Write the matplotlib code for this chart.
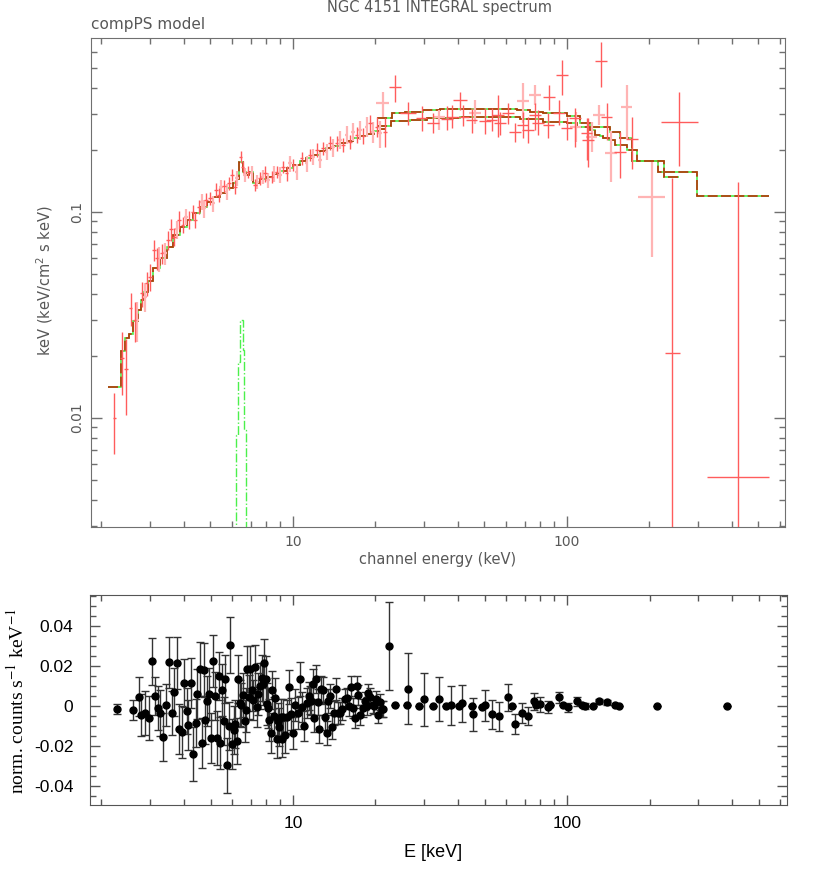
import matplotlib
matplotlib.use('Agg')
import matplotlib.pyplot as plt
import numpy as np
from matplotlib.ticker import LogLocator, NullFormatter, MultipleLocator

# JEM-X points (energy keV, flux, fractional error, data set)
jemx_E = [2.23, 2.376, 2.458, 2.557, 2.644, 2.703, 2.804, 2.884, 2.925, 3.007,
          3.110, 3.182, 3.251, 3.318, 3.411, 3.507, 3.587, 3.679, 3.763, 3.846,
          3.958, 4.070, 4.184, 4.305, 4.400, 4.528, 4.644, 4.735, 4.815, 4.980,
          5.119, 5.236, 5.356, 5.474, 5.600, 5.728, 5.855, 6.004, 6.141, 6.261,
          6.443, 6.553, 6.681, 6.869, 7.068, 7.267, 7.409, 7.579, 7.752, 7.924,
          8.127, 8.362, 8.525, 8.721, 8.967, 9.218, 9.485, 9.752, 10.03, 10.31,
          10.76, 11.22, 11.54, 11.86, 12.21, 12.55, 12.90, 13.27, 13.65, 14.03,
          14.44, 14.84, 15.26, 15.70, 16.14, 16.60, 17.08, 17.56, 18.06, 18.58,
          19.10, 19.64, 20.21, 20.78, 21.67]
jemx_F = [0.00997, 0.0195, 0.01723, 0.0341, 0.0299, 0.0299, 0.0403, 0.0388, 0.0451, 0.0485,
          0.0654, 0.0596, 0.0596, 0.0630, 0.0630, 0.0731, 0.0824, 0.0759, 0.0824, 0.0915,
          0.0865, 0.0949, 0.0915, 0.1003, 0.0915, 0.1061, 0.1122, 0.1042, 0.1143, 0.1165,
          0.1102, 0.1279, 0.1209, 0.1318, 0.1337, 0.1255, 0.1378, 0.1512, 0.1327, 0.1457,
          0.1855, 0.1660, 0.1512, 0.1569, 0.1541, 0.1352, 0.1403, 0.1457, 0.1484, 0.1541,
          0.1429, 0.1484, 0.1541, 0.1569, 0.1512, 0.1660, 0.1541, 0.1723, 0.1691, 0.1569,
          0.1823, 0.1723, 0.1891, 0.1855, 0.2000, 0.1789, 0.2038, 0.1962, 0.2170, 0.2060,
          0.2156, 0.2236, 0.2114, 0.2364, 0.2195, 0.2453, 0.2364, 0.2500, 0.2339, 0.2595,
          0.2695, 0.2453, 0.2595, 0.2410, 0.2453]
jemx_err = [0.33, 0.34, 0.40, 0.18, 0.22, 0.22, 0.14, 0.16, 0.13, 0.15,
            0.12, 0.12, 0.14, 0.11, 0.12, 0.11, 0.12, 0.10, 0.10, 0.10,
            0.09, 0.09, 0.10, 0.08, 0.09, 0.08, 0.09, 0.10, 0.08, 0.07,
            0.09, 0.08, 0.08, 0.08, 0.07, 0.09, 0.07, 0.07, 0.08, 0.08,
            0.07, 0.07, 0.08, 0.07, 0.08, 0.07, 0.08, 0.07, 0.08, 0.09,
            0.08, 0.07, 0.09, 0.07, 0.09, 0.07, 0.08, 0.09, 0.07, 0.09,
            0.07, 0.09, 0.07, 0.09, 0.08, 0.09, 0.07, 0.09, 0.08, 0.10,
            0.08, 0.10, 0.08, 0.10, 0.08, 0.10, 0.09, 0.11, 0.09, 0.11,
            0.10, 0.12, 0.11, 0.15, 0.16]
jemx_set = [1, 1, 1, 1, 1, 2, 1, 2, 1, 1,
            1, 1, 2, 1, 2, 1, 1, 1, 2, 1,
            1, 2, 1, 1, 1, 1, 2, 2, 1, 1,
            2, 1, 1, 2, 1, 2, 1, 1, 1, 2,
            1, 1, 2, 1, 2, 1, 2, 1, 2, 1,
            2, 1, 2, 1, 2, 1, 1, 2, 1, 2,
            1, 2, 1, 2, 1, 2, 1, 2, 1, 2,
            1, 2, 1, 2, 1, 2, 1, 2, 1, 2,
            1, 2, 1, 2, 1]

# ISGRI points
isgri_E = [21.26, 23.57, 26.35, 29.49, 32.51, 34.2, 36.4, 37.95, 40.69, 41.83,
           44.89, 46.15, 50.2, 53.1, 56.15, 56.9, 61.07, 64.6, 69.25, 68.9,
           72.24, 76.4, 76.4, 78.6, 86.2, 85.5, 93.5, 96.1, 99.7, 106.9,
           107.6, 118.0, 119.6, 123.1, 131.2, 133.4, 139.6, 144.8, 156.1, 165.1,
           173.1, 203.8, 242.3, 257.0, 421.8]
isgri_F = [0.3393, 0.4058, 0.3013, 0.2850, 0.2714, 0.2901, 0.2818, 0.2901, 0.3498, 0.2901,
           0.2797, 0.3034, 0.2775, 0.2797, 0.2957, 0.2695, 0.3013, 0.2453, 0.3470, 0.2644,
           0.2500, 0.3698, 0.2957, 0.2714, 0.3628, 0.2644, 0.3034, 0.4620, 0.2548, 0.2850,
           0.2595, 0.2410, 0.2236, 0.2319, 0.2957, 0.5410, 0.2882, 0.1940, 0.1962, 0.3222,
           0.2254, 0.1179, 0.0206, 0.2744, 0.00515]
isgri_hi = [0.3837, 0.4624, 0.3430, 0.3270, 0.3024, 0.3128, 0.3270, 0.3307, 0.3837, 0.3307,
            0.3197, 0.3498, 0.3197, 0.3197, 0.3698, 0.3058, 0.3381, 0.2704, 0.4215, 0.3058,
            0.2891, 0.4136, 0.3381, 0.3128, 0.4136, 0.3024, 0.3498, 0.5470, 0.2901, 0.3197,
            0.3058, 0.2860, 0.2860, 0.2735, 0.3307, 0.6686, 0.3381, 0.2472, 0.2445, 0.4136,
            0.2891, 0.1754, 0.1467, 0.3824, 0.1403]
isgri_lo = [0.2900, 0.3430, 0.2644, 0.2480, 0.2427, 0.2500, 0.2500, 0.2557, 0.3128, 0.2615,
            0.2418, 0.2674, 0.2391, 0.2472, 0.2319, 0.2364, 0.2674, 0.2187, 0.2695, 0.2286,
            0.2163, 0.3307, 0.2500, 0.2364, 0.3128, 0.2286, 0.2644, 0.3698, 0.2236, 0.2068,
            0.2187, 0.1788, 0.1653, 0.1955, 0.2644, 0.4058, 0.2236, 0.1403, 0.1462, 0.2261,
            0.1611, 0.0607, 0.0001, 0.1672, 0.0001]
isgri_dx = [0.055, 0.055, 0.07, 0.05, 0.05, 0.05, 0.05, 0.05, 0.06, 0.05,
            0.05, 0.05, 0.05, 0.05, 0.05, 0.05, 0.05, 0.05, 0.05, 0.05,
            0.05, 0.05, 0.05, 0.05, 0.05, 0.05, 0.05, 0.05, 0.05, 0.05,
            0.05, 0.05, 0.05, 0.05, 0.05, 0.05, 0.05, 0.05, 0.05, 0.05,
            0.05, 0.12, 0.065, 0.17, 0.30]
isgri_set = [2, 1, 1, 1, 1, 2, 1, 1, 1, 1,
             1, 2, 1, 1, 1, 1, 1, 1, 2, 1,
             1, 2, 1, 1, 1, 1, 1, 1, 1, 1,
             2, 1, 1, 2, 2, 1, 1, 2, 1, 2,
             1, 2, 1, 1, 1]

# folded model (bin edges, values)
jemx_edges = [2.12, 2.35, 2.44, 2.52, 2.60, 2.72, 2.79, 2.86, 2.95, 3.09,
              3.27, 3.46, 3.66, 3.87, 4.09, 4.33, 4.58, 4.84, 5.12, 5.42,
              5.73, 6.05, 6.25, 6.35, 6.55, 6.72, 6.92, 7.15, 7.6, 8.0,
              8.5, 9.0, 9.5, 10.0, 10.6, 11.2, 11.86, 12.5, 13.2, 14.0,
              14.8, 15.7, 16.6, 17.6, 18.6, 19.7, 20.78, 21.67]
jemx_model = [0.0141, 0.0211, 0.02455, 0.0256, 0.0297, 0.0334, 0.0374, 0.0410, 0.0460, 0.0533,
              0.0596, 0.0679, 0.0773, 0.0848, 0.0915, 0.0986, 0.1061, 0.1122, 0.1179, 0.1241,
              0.1303, 0.1387, 0.1440, 0.1754, 0.1569, 0.1512, 0.1563, 0.1378, 0.1440, 0.1480,
              0.1530, 0.1580, 0.1630, 0.1690, 0.1760, 0.1830, 0.1900, 0.1970, 0.2035, 0.2100,
              0.2160, 0.2220, 0.2280, 0.2340, 0.2400, 0.2460, 0.2520]
isgri_a_edges = [20.21, 22.92, 25.63, 29.82, 34.40, 65.7, 73.3, 81.7, 100.0, 111.5,
                 121.3, 143.5, 156.1, 172.7, 214.8, 298.3, 544.6]
isgri_a_model = [0.2850, 0.3013, 0.3069, 0.3128, 0.3162, 0.3128, 0.3069, 0.3013, 0.2924, 0.2714,
                 0.2595, 0.2445, 0.2279, 0.1768, 0.1559, 0.1196]
isgri_b_edges = [20.21, 22.79, 26.73, 30.83, 40.69, 67.4, 81.7, 100.0, 108.8, 121.3,
                 126.6, 131.9, 135.3, 142.3, 149.7, 165.6, 180.1, 225.9, 256.4]
isgri_b_model = [0.2615, 0.2765, 0.2797, 0.2850, 0.2882, 0.2818, 0.2744, 0.2695, 0.2595, 0.2500,
                 0.2364, 0.2339, 0.2279, 0.2236, 0.2114, 0.2000, 0.1768, 0.1484]
line_edges = [6.19, 6.30, 6.41, 6.55, 6.64, 6.72]
line_model = [0.00827, 0.01876, 0.0299, 0.0214, 0.00875]

# residuals
res_E = [2.285, 2.614, 2.734, 2.796, 2.891, 2.974, 3.050, 3.127, 3.207, 3.280,
         3.364, 3.440, 3.528, 3.608, 3.679, 3.762, 3.837, 3.922, 3.990, 4.091,
         4.150, 4.244, 4.304, 4.414, 4.476, 4.577, 4.642, 4.721, 4.787, 4.868,
         4.950, 5.020, 5.120, 5.192, 5.265, 5.354, 5.430, 5.522, 5.585, 5.647,
         5.743, 5.824, 5.906, 5.990, 6.091, 6.159, 6.246, 6.299, 6.388, 6.459,
         6.551, 6.662, 6.719, 6.794, 6.890, 6.968, 7.066, 7.166, 7.267, 7.370,
         7.474, 7.580, 7.686, 7.793, 7.860, 7.948, 8.015, 8.106, 8.174, 8.290,
         8.407, 8.501, 8.597, 8.718, 8.817, 8.916, 9.016, 9.118, 9.221, 9.351,
         9.483, 9.643, 9.806, 10.03, 10.20, 10.40, 10.60, 10.82, 11.00, 11.22,
         11.41, 11.54, 11.67, 11.80, 11.96, 12.13, 12.30, 12.48, 12.65, 12.83,
         13.09, 13.27, 13.46, 13.65, 13.92, 14.16, 14.36, 14.60, 14.84, 15.14,
         15.48, 15.70, 16.06, 16.28, 16.60, 16.84, 17.07, 17.31, 17.56, 17.96,
         18.32, 18.57, 18.83, 19.10, 19.53, 19.75, 20.09, 20.37, 20.78, 21.07,
         21.37, 22.34, 23.50, 26.14, 26.36, 28.91,
         30.07, 32.51, 34.01, 36.17, 37.72, 40.35, 41.38, 44.87, 45.50, 48.95,
         50.20, 53.23, 56.62, 60.74, 63.0, 64.6, 68.33, 71.86, 75.80, 77.08,
         79.71, 85.50, 86.47, 93.25, 96.42, 100.6, 108.5, 113.1, 116.3, 124.1,
         131.2, 139.6, 149.7, 154.4, 212.5, 382.5]
res_val = [-0.0017, -0.0022, 0.0045, -0.0047, -0.0038, -0.0062, 0.0222, 0.0048, -0.0012, -0.0035,
           -0.0158, 0.0002, 0.0218, -0.0035, 0.0068, 0.0212, -0.0115, -0.0133, 0.0115, -0.0027,
           -0.0098, 0.0115, -0.0242, -0.0088, 0.0060, 0.0185, -0.0187, 0.0178, -0.0072, 0.0022,
           0.0057, -0.0162, 0.0222, 0.0047, -0.0162, 0.0150, -0.0187, 0.0077, -0.0075, 0.0133,
           -0.0297, -0.0102, 0.0302, -0.0193, -0.0123, -0.0092, -0.0177, 0.0133, 0.0012, 0.0002,
           0.0055, -0.0077, -0.0023, 0.0182, 0.0043, 0.0185, 0.0078, 0.0027, 0.0195, -0.0007,
           0.0058, 0.0100, 0.0140, 0.0107, 0.0212, 0.0135, 0.0007, -0.0012, -0.0073, -0.0135,
           0.0078, -0.0053, 0.0038, -0.0168, -0.0078, -0.0108, -0.0055, -0.0165, -0.0058, -0.0148,
           -0.0055, 0.0092, -0.0043, -0.0138, 0.0005, -0.0038, 0.0133, -0.0005, -0.0102, 0.0012,
           0.0050, 0.0028, 0.0023, 0.0110, -0.0062, 0.0133, 0.0020, -0.0118, 0.0085, 0.0078,
           -0.0055, -0.0138, 0.0025, 0.0048, -0.0105, -0.0038, 0.0085, -0.0035, -0.0035, -0.0018,
           0.0033, 0.0037, -0.0002, 0.0092, -0.0012, -0.0063, 0.0097, 0.0052, -0.0048, -0.0012,
           0.0025, 0.0000, 0.0062, 0.0045, 0.0002, -0.0002, 0.0032, -0.0047, 0.0020, -0.0018,
           -0.0017, 0.0300, 0.0002, 0.0002, 0.0085, 0.0000,
           0.0032, 0.0000, 0.0035, 0.0000, 0.0003, 0.0000, 0.0013, 0.0000, -0.0043, -0.0007,
           0.0002, -0.0043, -0.0052, 0.0042, 0.0000, -0.0092, -0.0038, -0.0052, 0.0023, 0.0003,
           0.0007, -0.0007, 0.0003, 0.0042, 0.0002, -0.0007, 0.0022, 0.0002, -0.0003, -0.0003,
           0.0022, 0.0017, 0.0002, -0.0003, -0.0003, 0.0000]
res_err = [0.0025, 0.0050, 0.0098, 0.0105, 0.0110, 0.0110, 0.0117, 0.0095, 0.0110, 0.0115,
           0.0120, 0.0105, 0.0127, 0.0110, 0.0120, 0.0130, 0.0125, 0.0130, 0.0120, 0.0115,
           0.0125, 0.0125, 0.0137, 0.0120, 0.0125, 0.0135, 0.0125, 0.0135, 0.0120, 0.0125,
           0.0130, 0.0125, 0.0130, 0.0120, 0.0135, 0.0120, 0.0130, 0.0130, 0.0120, 0.0120,
           0.0138, 0.0120, 0.0140, 0.0125, 0.0120, 0.0120, 0.0115, 0.0120, 0.0115, 0.0110,
           0.0110, 0.0105, 0.0110, 0.0115, 0.0110, 0.0115, 0.0105, 0.0100, 0.0110, 0.0100,
           0.0105, 0.0115, 0.0115, 0.0105, 0.0120, 0.0115, 0.0105, 0.0100, 0.0105, 0.0100,
           0.0095, 0.0095, 0.0100, 0.0095, 0.0090, 0.0095, 0.0090, 0.0090, 0.0090, 0.0090,
           0.0085, 0.0085, 0.0080, 0.0080, 0.0080, 0.0080, 0.0085, 0.0075, 0.0075, 0.0075,
           0.0070, 0.0070, 0.0070, 0.0075, 0.0070, 0.0070, 0.0065, 0.0070, 0.0065, 0.0065,
           0.0065, 0.0060, 0.0060, 0.0060, 0.0060, 0.0060, 0.0055, 0.0055, 0.0055, 0.0055,
           0.0050, 0.0050, 0.0050, 0.0055, 0.0050, 0.0050, 0.0050, 0.0050, 0.0050, 0.0045,
           0.0045, 0.0045, 0.0045, 0.0045, 0.0040, 0.0040, 0.0040, 0.0040, 0.0040, 0.0040,
           0.0040, 0.0220, 0.0000, 0.0000, 0.0177, 0.0000,
           0.0133, 0.0, 0.0110, 0.0, 0.0098, 0.0, 0.0092, 0.0, 0.0083, 0.0,
           0.0078, 0.0072, 0.0073, 0.0068, 0.0, 0.0050, 0.0050, 0.0045, 0.0042, 0.0,
           0.0038, 0.0030, 0.0, 0.0027, 0.0, 0.0023, 0.0022, 0.0, 0.0015, 0.0,
           0.0014, 0.0014, 0.0, 0.0, 0.0, 0.0]

GREY = '#707070'
TXT = '#585858'
RED = '#ff5c5c'
PINK = '#ffb4b4'
DARKRED = '#b8320a'
GREEN = '#4cf04c'

plt.rcParams['font.family'] = 'DejaVu Sans'

fig = plt.figure(figsize=(8.3, 8.83), dpi=100)
ax1 = fig.add_axes([0.1096, 0.4032, 0.8361, 0.5538])
ax2 = fig.add_axes([0.1084, 0.0883, 0.8398, 0.2378])

# top panel: unfolded spectrum
E = np.array(jemx_E)
F = np.array(jemx_F)
err = np.array(jemx_err)
s = np.array(jemx_set)
for k, col, lw in [(2, PINK, 1.6), (1, RED, 1.0)]:
    m = s == k
    ax1.errorbar(E[m], F[m], yerr=F[m] * err[m], xerr=E[m] * 0.015,
                 fmt='none', ecolor=col, elinewidth=lw, capsize=0)

E = np.array(isgri_E)
F = np.array(isgri_F)
lo = np.array(isgri_lo)
hi = np.array(isgri_hi)
dx = np.array(isgri_dx)
s = np.array(isgri_set)
for k, col, lw in [(2, PINK, 1.6), (1, RED, 1.0)]:
    m = s == k
    ax1.errorbar(E[m], F[m], yerr=[F[m] - lo[m], hi[m] - F[m]],
                 xerr=[E[m] - E[m] / (1 + dx[m]), E[m] * dx[m]],
                 fmt='none', ecolor=col, elinewidth=lw, capsize=0)

for edges, vals in [(jemx_edges, jemx_model), (isgri_a_edges, isgri_a_model),
                    (isgri_b_edges, isgri_b_model)]:
    ax1.stairs(vals, edges, baseline=None, color=GREEN, lw=1.2)
    ax1.stairs(vals, edges, baseline=None, color=DARKRED, lw=1.2, linestyle=(0, (6, 2)))
ax1.stairs(line_model, line_edges, baseline=1e-4, color=GREEN, lw=1.0, linestyle='-.')

ax1.set_xscale('log')
ax1.set_yscale('log')
ax1.set_xlim(1.831, 624.6)
ax1.set_ylim(0.002958, 0.6994)
ax1.set_xticks([10, 100], ['10', '100'])
ax1.set_yticks([0.01, 0.1], ['0.01', '0.1'])
for axis in (ax1.xaxis, ax1.yaxis):
    axis.set_minor_locator(LogLocator(base=10, subs=list(range(2, 10)), numticks=20))
    axis.set_minor_formatter(NullFormatter())
ax1.tick_params(which='both', direction='in', top=True, right=True, color=GREY,
                labelcolor=TXT, labelsize=10, width=1)
ax1.tick_params(which='major', length=8)
ax1.tick_params(which='minor', length=4)
ax1.tick_params(axis='x', pad=6)
ax1.tick_params(axis='y', pad=5, labelrotation=90)
for lab in ax1.get_yticklabels():
    lab.set_va('center')
for sp in ax1.spines.values():
    sp.set_color(GREY)

fig.text(0.53, 0.992, 'NGC 4151 INTEGRAL spectrum', ha='center', va='center',
         fontsize=10.5, color=TXT)
fig.text(0.1096, 0.9717, 'compPS model', ha='left', va='center', fontsize=11, color=TXT)
fig.text(0.5277, 0.3658, 'channel energy (keV)', ha='center', va='center',
         fontsize=10.5, color=TXT)
fig.text(0.054, 0.6818, 'keV (keV/cm$^2$ s keV)', rotation=90, ha='center',
         va='center', fontsize=10.5, color=TXT)

# bottom panel: residuals
eb = ax2.errorbar(res_E, res_val, yerr=res_err, fmt='o', color='black', ms=5,
                  ecolor='#333333', elinewidth=1, capsize=3, capthick=1)
for cap in eb[1]:
    cap.set_color('#9a9a9a')
ax2.set_xscale('log')
ax2.set_xlim(1.816, 635)
ax2.set_ylim(-0.0497, 0.0554)
ax2.set_xticks([10, 100], ['10', '100'])
ax2.xaxis.set_minor_locator(LogLocator(base=10, subs=list(range(2, 10)), numticks=20))
ax2.xaxis.set_minor_formatter(NullFormatter())
ax2.set_yticks([-0.04, -0.02, 0, 0.02, 0.04], ['-0.04', '-0.02', '0', '0.02', '0.04'])
ax2.yaxis.set_minor_locator(MultipleLocator(0.005))
ax2.tick_params(which='both', direction='in', top=True, right=True, color='#555555',
                labelsize=12.5, width=1)
ax2.tick_params(which='major', length=7)
ax2.tick_params(which='minor', length=4)
ax2.tick_params(axis='y', pad=12)
ax2.tick_params(axis='x', pad=8)
for lab in ax2.get_xticklabels() + ax2.get_yticklabels():
    lab.set_fontfamily('Liberation Sans')
for sp in ax2.spines.values():
    sp.set_color('#555555')

fig.text(0.5217, 0.0351, 'E [keV]', ha='center', va='center', fontsize=13,
         family='Liberation Sans')
fig.text(0.0205, 0.206, 'norm. counts s$^{-1}$ keV$^{-1}$', rotation=90, ha='center',
         va='center', fontsize=14, family='Liberation Serif', math_fontfamily='stix')

fig.savefig('out.png', dpi=100)
